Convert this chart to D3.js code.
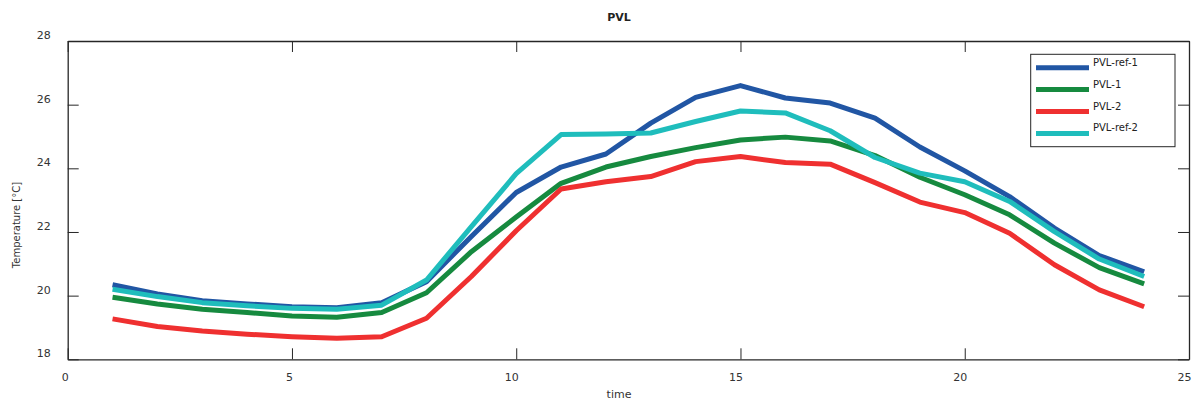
<!DOCTYPE html>
<html>
<head>
<meta charset="utf-8">
<script src="https://cdn.jsdelivr.net/npm/d3@7"></script>
<style>
  body { margin: 0; background: #fff; }
  svg { font-family: "DejaVu Sans", sans-serif; }
</style>
</head>
<body>
<div id="chart"></div>
<script>
// hours 1..24
const hours = d3.range(1, 25);

const refOne = [20.34, 20.05, 19.84, 19.74, 19.65, 19.62, 19.78, 20.44, 21.86, 23.24, 24.04, 24.45,
  25.42, 26.23, 26.6, 26.21, 26.05, 25.58, 24.67, 23.92, 23.11, 22.12, 21.26, 20.75];
const pvlOne = [19.95, 19.74, 19.57, 19.47, 19.36, 19.32, 19.47, 20.09, 21.38, 22.47, 23.53, 24.04,
  24.37, 24.65, 24.89, 24.98, 24.86, 24.4, 23.72, 23.17, 22.54, 21.65, 20.88, 20.37];
const pvlTwo = [19.27, 19.03, 18.89, 18.79, 18.71, 18.66, 18.71, 19.29, 20.6, 22.04, 23.35, 23.58,
  23.74, 24.21, 24.37, 24.18, 24.13, 23.55, 22.94, 22.61, 21.96, 20.97, 20.18, 19.65];
const refTwo = [20.2, 19.97, 19.78, 19.68, 19.6, 19.57, 19.7, 20.49, 22.17, 23.83, 25.06, 25.08,
  25.11, 25.47, 25.8, 25.74, 25.18, 24.34, 23.85, 23.58, 22.96, 22.01, 21.15, 20.6];

const seriesNames = ["PVL-ref-1", "PVL-1", "PVL-2", "PVL-ref-2"];
const seriesValues = [refOne, pvlOne, pvlTwo, refTwo];
const seriesColors = ["#2156a4", "#168a3f", "#ef3030", "#1fbdbc"];

const xTicks = [0, 5, 10, 15, 20, 25];
const yTicks = [18, 20, 22, 24, 26, 28];

const w = 1195, h = 401;
const plotL = 67.7, plotR = 1189, plotT = 41, plotB = 359.3;
const axisColor = "#262626";

const x = d3.scaleLinear().domain([0, 25]).range([plotL, plotR]);
const y = d3.scaleLinear().domain([18, 28]).range([plotB, plotT]);

const svg = d3.select("#chart").append("svg")
  .attr("width", w)
  .attr("height", h);

// lines
const line = d3.line()
  .x((d, i) => x(hours[i]))
  .y(d => y(d));

seriesValues.forEach((vals, i) => {
  svg.append("path")
    .datum(vals)
    .attr("d", line)
    .attr("fill", "none")
    .attr("stroke", seriesColors[i])
    .attr("stroke-width", 5)
    .attr("stroke-linejoin", "round");
});

// box axes, ticks inside
const tickLen = 11;
const bottomAxis = svg.append("g")
  .attr("transform", `translate(0,${plotB})`)
  .call(d3.axisBottom(x).tickValues(xTicks).tickSizeInner(-tickLen).tickSizeOuter(0).tickPadding(14));
const topAxis = svg.append("g")
  .attr("transform", `translate(0,${plotT})`)
  .call(d3.axisTop(x).tickValues(xTicks).tickSizeInner(-tickLen).tickSizeOuter(0).tickFormat(""));
const leftAxis = svg.append("g")
  .attr("transform", `translate(${plotL},0)`)
  .call(d3.axisLeft(y).tickValues(yTicks).tickSizeInner(-tickLen).tickSizeOuter(0).tickPadding(17));
const rightAxis = svg.append("g")
  .attr("transform", `translate(${plotR},0)`)
  .call(d3.axisRight(y).tickValues(yTicks).tickSizeInner(-tickLen).tickSizeOuter(0).tickFormat(""));

[bottomAxis, topAxis, leftAxis, rightAxis].forEach(g => {
  g.select(".domain").attr("stroke", axisColor).attr("stroke-width", 1.3);
  g.selectAll(".tick line").attr("stroke", axisColor);
  g.selectAll(".tick text")
    .attr("fill", "#333")
    .style("font-size", "11px")
    .style("font-family", "DejaVu Sans, sans-serif");
});
bottomAxis.selectAll(".tick text").attr("dx", d => d >= 10 ? -5 : -3);
leftAxis.selectAll(".tick text").attr("dy", "-0.22em");

// title and axis labels
svg.append("text")
  .attr("x", 619).attr("y", 21)
  .attr("text-anchor", "middle")
  .style("font-size", "11px")
  .style("font-weight", "bold")
  .attr("fill", "#222")
  .text("PVL");

svg.append("text")
  .attr("x", 619).attr("y", 398)
  .attr("text-anchor", "middle")
  .style("font-size", "11px")
  .attr("fill", "#333")
  .text("time");

svg.append("text")
  .attr("transform", "translate(20,225) rotate(-90)")
  .attr("text-anchor", "middle")
  .style("font-size", "10px")
  .attr("fill", "#333")
  .text("Temperature [°C]");

// legend
const legend = svg.append("g");
legend.append("rect")
  .attr("x", 1030.7).attr("y", 54.3)
  .attr("width", 144.3).attr("height", 92.4)
  .attr("fill", "#fff")
  .attr("stroke", axisColor)
  .attr("stroke-width", 1);

seriesNames.forEach((name, i) => {
  const ly = 67.7 + i * 21.9;
  legend.append("line")
    .attr("x1", 1036).attr("x2", 1089)
    .attr("y1", ly).attr("y2", ly)
    .attr("stroke", seriesColors[i])
    .attr("stroke-width", 5);
  legend.append("text")
    .attr("x", 1093).attr("y", ly - 2)
    .style("font-size", "10px")
    .attr("fill", "#222")
    .text(name);
});
</script>
</body>
</html>
